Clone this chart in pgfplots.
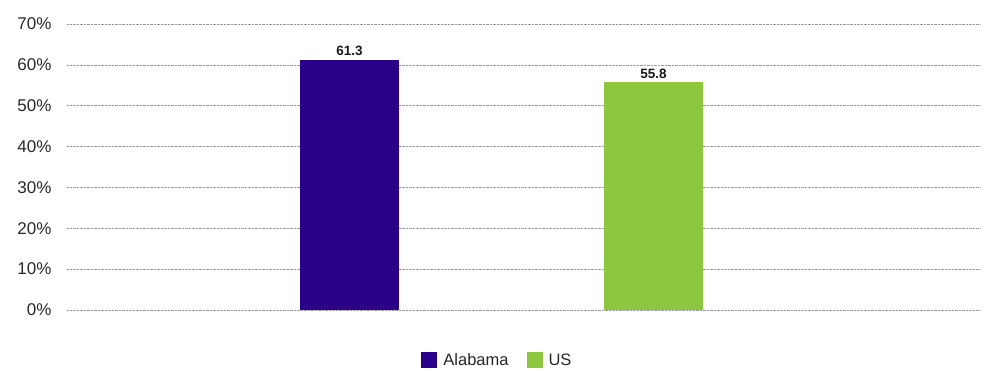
\documentclass[border=0pt]{standalone}
\usepackage{pgfplots}
\pgfplotsset{compat=1.18}
\usepackage{fontspec}
\setmainfont{Liberation Sans}
\definecolor{alab}{RGB}{42,0,136}
\definecolor{usg}{RGB}{141,198,63}
\definecolor{tickc}{RGB}{40,40,40}
\begin{document}
\begin{tikzpicture}
\begin{axis}[
  at={(67pt,59pt)}, anchor=south west,
  scale only axis,
  width=913pt, height=286pt,
  ymin=0, ymax=70,
  ytick={0,10,...,70},
  xmin=-0.929, xmax=2.074,
  enlargelimits=false,
  xtick=\empty,
  axis line style={draw=none},
  major tick length=0pt,
  ymajorgrids,
  grid style={densely dotted, gray!80, line width=0.6pt},
  /pgf/number format/assume math mode=true,
  yticklabel={\pgfmathprintnumber{\tick}\%},
  yticklabel style={font=\fontsize{17}{20}\selectfont, text=tickc, xshift=-12pt},
  ybar, bar width=99pt, bar shift=0pt,
  nodes near coords,
  nodes near coords style={font=\fontsize{13.5}{15}\selectfont\bfseries, text=black!90,
    /pgf/number format/.cd, fixed, precision=1, fixed zerofill},
  legend style={at={(0.4715,-0.175)}, anchor=center, draw=none, legend columns=2,
    font=\fontsize{16.5}{19}\selectfont, text=tickc,
    /tikz/every even column/.append style={column sep=16pt}},
  legend image code/.code={\fill[#1] (0pt,-8pt) rectangle (16pt,8pt); \path (20pt,0pt);},
]
\addplot[fill=alab, draw=none] coordinates {(0,61.3)};
\addlegendentry{Alabama}
\addplot[fill=usg, draw=none] coordinates {(1,55.8)};
\addlegendentry{US}
\end{axis}
\path[use as bounding box] (0,0) rectangle (990pt,369pt);
\end{tikzpicture}
\end{document}
